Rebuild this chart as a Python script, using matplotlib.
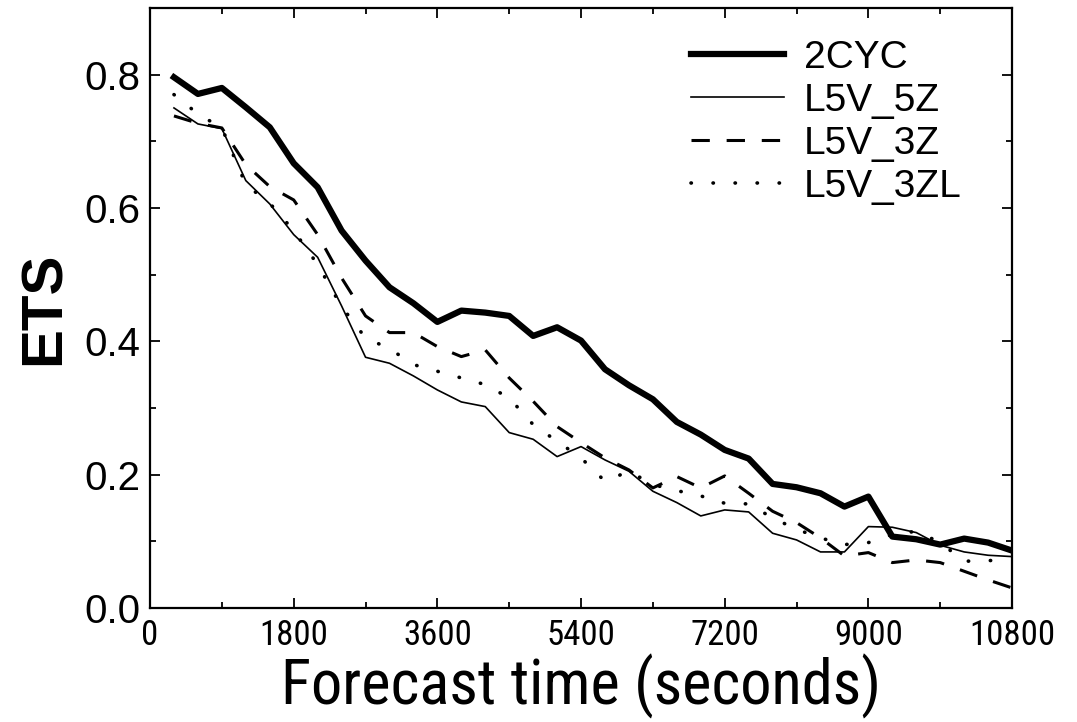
import matplotlib
matplotlib.use("Agg")
import matplotlib.pyplot as plt
from matplotlib import font_manager
from matplotlib.font_manager import FontProperties
from matplotlib.ticker import MultipleLocator

# forecast time (s) and ETS for each experiment
tiempos = list(range(300, 10801, 300))

ets_2cyc = [0.796, 0.771, 0.780, 0.751, 0.721, 0.667, 0.631, 0.566, 0.521, 0.481,
            0.457, 0.429, 0.446, 0.443, 0.438, 0.408, 0.421, 0.401, 0.358, 0.334,
            0.313, 0.279, 0.260, 0.237, 0.224, 0.186, 0.181, 0.172, 0.152, 0.167,
            0.107, 0.103, 0.095, 0.104, 0.098, 0.086]
ets_5z = [0.750, 0.726, 0.719, 0.641, 0.606, 0.560, 0.526, 0.453, 0.376, 0.367,
          0.348, 0.327, 0.309, 0.302, 0.263, 0.253, 0.227, 0.242, 0.222, 0.205,
          0.175, 0.158, 0.138, 0.147, 0.144, 0.112, 0.102, 0.084, 0.084, 0.122,
          0.121, 0.113, 0.094, 0.084, 0.079, 0.077]
ets_3z = [0.738, 0.727, 0.720, 0.665, 0.632, 0.612, 0.560, 0.495, 0.438, 0.413,
          0.413, 0.392, 0.377, 0.387, 0.345, 0.310, 0.272, 0.248, 0.225, 0.207,
          0.180, 0.197, 0.180, 0.198, 0.172, 0.145, 0.128, 0.105, 0.078, 0.083,
          0.068, 0.072, 0.068, 0.055, 0.042, 0.030]
ets_3zl = [0.770, 0.741, 0.720, 0.635, 0.607, 0.566, 0.515, 0.452, 0.405, 0.389,
           0.365, 0.355, 0.345, 0.335, 0.315, 0.275, 0.250, 0.225, 0.190, 0.205,
           0.185, 0.176, 0.168, 0.157, 0.156, 0.135, 0.118, 0.105, 0.095, 0.098,
           0.110, 0.115, 0.098, 0.070, 0.071, 0.072]

etiquetas = ["2CYC", "L5V_5Z", "L5V_3Z", "L5V_3ZL"]
xticks = [0, 1800, 3600, 5400, 7200, 9000, 10800]

nombres = {f.name for f in font_manager.fontManager.ttflist}
fuente = "Liberation Sans" if "Liberation Sans" in nombres else "DejaVu Sans"
plt.rcParams["font.family"] = [fuente, "DejaVu Sans"]

# buscar una fuente angosta para el eje x (como en la figura original)
angosta = None
preferidas = ["Liberation Sans Narrow", "Arial Narrow", "Roboto Condensed",
              "Open Sans Condensed", "Noto Sans Condensed", "DejaVu Sans Condensed"]
for nombre in preferidas:
    for f in font_manager.fontManager.ttflist:
        if f.name == nombre and f.style == "normal" and f.weight in (400, "normal", "regular"):
            angosta = f.fname
            break
    if angosta:
        break
if angosta is None:
    for f in font_manager.fontManager.ttflist:
        if f.stretch in ("condensed", "semi-condensed") and f.style == "normal" \
                and f.weight in (400, "normal", "regular") and "Mono" not in f.name:
            angosta = f.fname
            break

if angosta:
    fp_ticks = FontProperties(fname=angosta, size=25)
    fp_xlabel = FontProperties(fname=angosta, size=45)
else:
    fp_ticks = FontProperties(family=fuente, size=22)
    fp_xlabel = FontProperties(family=fuente, size=40)

fig = plt.figure(figsize=(10.77, 7.22), dpi=100)
ax = fig.add_axes([0.1393, 0.158, 0.8004, 0.831])

ax.plot(tiempos, ets_2cyc, color="black", lw=4.5, solid_joinstyle="round", label=etiquetas[0])
ax.plot(tiempos, ets_5z, color="black", lw=1.2, label=etiquetas[1])
ax.plot(tiempos, ets_3z, color="black", lw=2.2, linestyle=(0, (6, 5.5)), label=etiquetas[2])
ax.plot(tiempos, ets_3zl, color="black", lw=2.6, linestyle=(0, (0.1, 6)),
        dash_capstyle="round", label=etiquetas[3])

ax.set_xlim(0, 10800)
ax.set_ylim(0, 0.9)
ax.set_xticks(xticks)
ax.xaxis.set_minor_locator(MultipleLocator(900))
ax.yaxis.set_minor_locator(MultipleLocator(0.1))
ax.set_yticks([0.0, 0.2, 0.4, 0.6, 0.8])
ax.set_yticklabels(["0.0", "0.2", "0.4", "0.6", "0.8"])

ax.tick_params(which="both", direction="in", top=True, right=True, width=1.3)
ax.tick_params(which="major", length=7)
ax.tick_params(which="minor", length=4)
ax.tick_params(axis="y", labelsize=29, pad=7)
ax.tick_params(axis="x", pad=8)
for lbl in ax.get_xticklabels():
    lbl.set_fontproperties(fp_ticks)
for s in ax.spines.values():
    s.set_linewidth(1.6)

ax.set_xlabel("Forecast time (seconds)", fontproperties=fp_xlabel, labelpad=1)
ax.set_ylabel("ETS", fontsize=42, fontweight="bold", labelpad=9)

ax.legend(loc="upper right", bbox_to_anchor=(0.975, 0.995), frameon=False, fontsize=28,
          handlelength=2.4, handletextpad=0.5, labelspacing=0.18, borderaxespad=0.35)

fig.savefig("out.png", dpi=100)
